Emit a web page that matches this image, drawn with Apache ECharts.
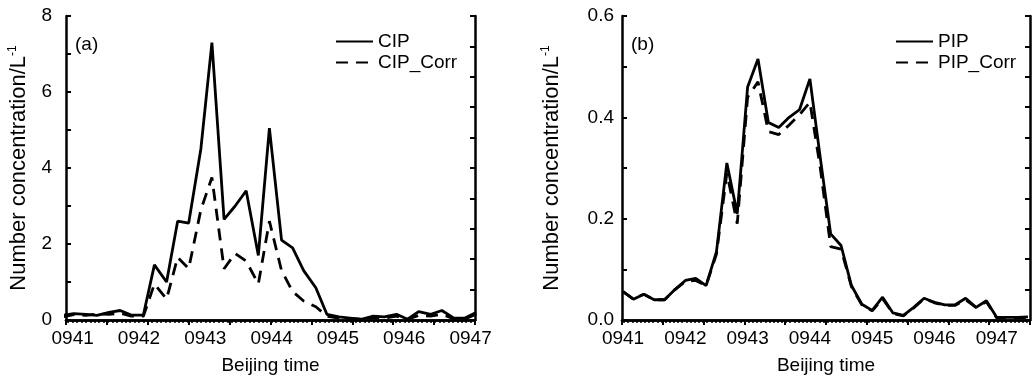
<!DOCTYPE html>
<html>
<head>
<meta charset="utf-8">
<script src="https://cdn.jsdelivr.net/npm/echarts@6/dist/echarts.min.js"></script>
<style>
  html, body {margin: 0; padding: 0; background: #fff;}
  #main {width: 1032px; height: 380px;}
</style>
</head>
<body>
<div id="main"></div>
<script>
// seconds after 09:40:00
const cipTime = [51, 61, 72, 82, 93, 103, 113, 124, 134, 145, 155, 165, 176, 186, 197, 207, 217, 228, 238,
  249, 259, 269, 280, 290, 301, 311, 321, 332, 342, 353, 363, 373, 384, 394, 405, 415, 425];
const cip = [0.12, 0.17, 0.15, 0.12, 0.2, 0.25, 0.13, 0.13, 1.45, 1.0, 2.6, 2.55, 4.5, 7.3, 2.65, 3.0, 3.4, 1.7, 5.05,
  2.1, 1.9, 1.3, 0.85, 0.15, 0.08, 0.05, 0.02, 0.1, 0.08, 0.15, 0.02, 0.22, 0.15, 0.25, 0.05, 0.05, 0.2];
const cipCorr = [0.08, 0.14, 0.12, 0.16, 0.15, 0.18, 0.1, 0.1, 0.95, 0.55, 1.65, 1.35, 2.9, 3.75, 1.35, 1.75, 1.55, 0.95, 2.6,
  1.3, 0.75, 0.5, 0.35, 0.1, 0.05, 0.03, 0.02, 0.06, 0.05, 0.1, 0.02, 0.12, 0.1, 0.15, 0.03, 0.03, 0.15];

const pipTime = [60, 70, 80, 90, 100, 110, 120, 130, 140, 150, 160, 170, 180, 190, 200, 210, 220, 230, 240, 250,
  260, 270, 280, 290, 300, 310, 320, 330, 340, 350, 360, 370, 380, 390, 400, 410, 420, 430, 440, 450];
const pip = [0.056, 0.041, 0.051, 0.04, 0.04, 0.06, 0.078, 0.082, 0.068, 0.135, 0.31, 0.21, 0.46, 0.515, 0.39, 0.38, 0.40, 0.415, 0.476, 0.32,
  0.17, 0.147, 0.068, 0.031, 0.019, 0.045, 0.014, 0.009, 0.025, 0.043, 0.035, 0.03, 0.03, 0.043, 0.025, 0.038, 0.005, 0.005, 0.005, 0.006];
const pipCorr = [0.056, 0.041, 0.051, 0.04, 0.04, 0.06, 0.076, 0.078, 0.068, 0.13, 0.29, 0.19, 0.44, 0.47, 0.372, 0.366, 0.385, 0.405, 0.43, 0.3,
  0.145, 0.14, 0.066, 0.03, 0.018, 0.042, 0.013, 0.008, 0.024, 0.042, 0.034, 0.029, 0.029, 0.04, 0.025, 0.036, 0.004, 0.004, 0.004, 0.005];

const minuteTicks = [60, 120, 180, 240, 300, 360, 420];
const cipYLabels = [0, 2, 4, 6, 8];
const pipYLabels = [0, 0.2, 0.4, 0.6];

const font = 'Liberation Sans, Arial, sans-serif';
const black = '#000';

const zip = (t, v) => t.map((x, i) => [x, v[i]]);
const fineTicks = (a, b, step) => {
  const out = [];
  for (let v = a; v <= b; v += step) out.push(v);
  return out;
};

const timeAxis = (grid, min, max) => ({
  type: 'value', gridIndex: grid, min: min, max: max,
  splitLine: {show: false},
  axisLine: {lineStyle: {color: black, width: 2.5}},
  axisTick: {length: 3, customValues: fineTicks(min + 2, max, 4), lineStyle: {color: black, width: 1.5}},
  axisLabel: {customValues: minuteTicks, color: black, fontSize: 19, fontFamily: font, margin: 9,
    formatter: v => '09' + (40 + v / 60)},
  name: 'Beijing time', nameLocation: 'middle', nameGap: 36,
  nameTextStyle: {color: black, fontSize: 19, fontFamily: font}
});

const frameAxis = (grid, pos) => ({
  type: 'value', gridIndex: grid, position: pos, min: 0, max: 10, interval: 1,
  splitLine: {show: false},
  axisLine: {lineStyle: {color: black, width: 2.5}},
  axisTick: {inside: true, length: 5, lineStyle: {color: black, width: 2}},
  axisLabel: {show: false}
});

const valueAxis = (grid, max, interval, labels, digits, margin, gap) => ({
  type: 'value', gridIndex: grid, min: 0, max: max, interval: interval,
  splitLine: {show: false},
  axisLine: {show: true, lineStyle: {color: black, width: 2.5}},
  axisTick: {inside: true, length: 5, lineStyle: {color: black, width: 2}},
  axisLabel: {customValues: labels, color: black, fontSize: 19, fontFamily: font, margin: margin,
    formatter: v => v.toFixed(digits)},
  name: 'Number concentration/L{sup|-1}', nameLocation: 'middle', nameRotate: 90, nameGap: gap,
  nameTextStyle: {color: black, fontSize: 22, fontFamily: font,
    rich: {sup: {fontSize: 12, fontFamily: font, color: black, padding: [0, 0, 12, 0]}}}
});

const lineSeries = (name, x, y, data, dashed) => ({
  name: name, type: 'line', xAxisIndex: x, yAxisIndex: y, data: data,
  symbol: 'none', silent: true,
  lineStyle: {color: black, width: 2.8, type: dashed ? [12, 8] : 'solid'},
  itemStyle: {color: black}
});

const legendAt = (left, names) => ({
  left: left, top: 27, orient: 'vertical', itemWidth: 37, itemHeight: 14, itemGap: 2,
  data: names, selectedMode: false,
  itemStyle: {opacity: 0},
  textStyle: {color: black, fontSize: 19, fontFamily: font}
});

const myChart = echarts.init(document.getElementById('main'), null, {renderer: 'canvas'});
myChart.setOption({
  animation: false,
  backgroundColor: '#fff',
  grid: [
    {left: 66, top: 16, width: 409, height: 305},
    {left: 622, top: 16, width: 408, height: 305}
  ],
  xAxis: [
    timeAxis(0, 54, 424),
    frameAxis(0, 'top'),
    timeAxis(1, 59, 452),
    frameAxis(1, 'top')
  ],
  yAxis: [
    valueAxis(0, 8, 1, cipYLabels, 0, 14, 35),
    frameAxis(0, 'right'),
    valueAxis(1, 0.6, 0.1, pipYLabels, 1, 8, 58),
    frameAxis(1, 'right')
  ],
  legend: [
    legendAt(330, ['CIP', 'CIP_Corr']),
    legendAt(890, ['PIP', 'PIP_Corr'])
  ],
  graphic: [
    {type: 'text', left: 75, top: 35, style: {text: '(a)', fill: black, font: '19px ' + font}},
    {type: 'text', left: 631, top: 35, style: {text: '(b)', fill: black, font: '19px ' + font}}
  ],
  series: [
    lineSeries('CIP', 0, 0, zip(cipTime, cip), false),
    lineSeries('CIP_Corr', 0, 0, zip(cipTime, cipCorr), true),
    lineSeries('PIP', 2, 2, zip(pipTime, pip), false),
    lineSeries('PIP_Corr', 2, 2, zip(pipTime, pipCorr), true)
  ]
});
</script>
</body>
</html>
